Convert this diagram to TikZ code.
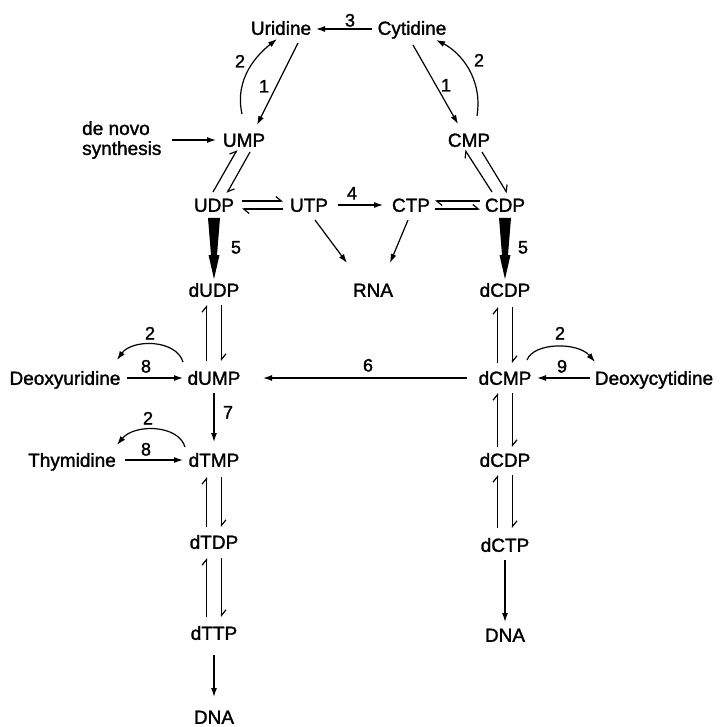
\documentclass[tikz,border=0pt]{standalone}
\usepackage{fontspec}
\setmainfont{Liberation Sans}
\newfontfamily\figfont{Liberation Sans}[FakeBold=1.5]
\usetikzlibrary{arrows.meta,calc}
\tikzset{
  lbl/.style={font=\figfont\fontsize{19}{20}\selectfont, text height=13.6pt, text depth=0pt, inner sep=2pt},
  num/.style={font=\figfont\fontsize{18}{20}\selectfont, text height=13pt, text depth=0pt, inner sep=0pt},
  arr/.style={line width=1.2pt, -{Latex[length=9pt,width=6pt]}},
  harp/.style={line width=1.2pt, -{Straight Barb[left,length=5.5pt,width=9pt]}}
}
\newcommand\mytaper[2]{%
  \fill let \p1=(#1), \p2=(#2) in
    (\x1-6pt,\y1) -- (\x1+6pt,\y1) -- (\x1+3pt,\y2+24pt) -- (\x1+5.5pt,\y2+24pt)
    -- (\x1,\y2) -- (\x1-5.5pt,\y2+24pt) -- (\x1-3pt,\y2+24pt) -- cycle;}
\begin{document}
\begin{tikzpicture}[x=1pt,y=-1pt]
\useasboundingbox (0,0) rectangle (719,727);
% nodes
\node[lbl] (Uri) at (281,28) {Uridine};
\node[lbl] (Cyt) at (412,28) {Cytidine};
\node[lbl] (UMP) at (244,140) {UMP};
\node[lbl] (CMP) at (469,140) {CMP};
\node[font=\figfont\fontsize{19}{20}\selectfont, align=left, anchor=west, inner sep=0pt] (denovo) at (82,140) {de novo\\synthesis};
\node[lbl] (UDP) at (214,205) {UDP};
\node[lbl] (UTP) at (309,205) {UTP};
\node[lbl] (CTP) at (411,205) {CTP};
\node[lbl] (CDP) at (505,205) {CDP};
\node[lbl] (dUDP) at (214,290) {dUDP};
\node[lbl] (RNA) at (373,290) {RNA};
\node[lbl] (dCDP) at (505,290) {dCDP};
\node[lbl] (dUMP) at (214,378) {dUMP};
\node[lbl] (dCMP) at (505,378) {dCMP};
\node[lbl] (dUrd) at (65,378) {Deoxyuridine};
\node[lbl] (dCyd) at (654,378) {Deoxycytidine};
\node[lbl] (Thd) at (72,460) {Thymidine};
\node[lbl] (dTMP) at (214,460) {dTMP};
\node[lbl] (dCDPb) at (505,460) {dCDP};
\node[lbl] (dTDP) at (214,542) {dTDP};
\node[lbl] (dCTP) at (505,545) {dCTP};
\node[lbl] (dTTP) at (214,633) {dTTP};
\node[lbl] (DNAr) at (505,635) {DNA};
\node[lbl] (DNAl) at (214,717) {DNA};
% number labels
\node[num] (n3) at (350,20) {3};
\node[num] (n1a) at (264,86) {1};
\node[num] (n2a) at (240,61) {2};
\node[num] (n1b) at (446,85) {1};
\node[num] (n2b) at (479,60) {2};
\node[num] (n4) at (352,193) {4};
\node[num] (n5a) at (236,247) {5};
\node[num] (n5b) at (523,247) {5};
\node[num] (n2c) at (150,333) {2};
\node[num] (n8a) at (146,366) {8};
\node[num] (n7) at (228,412) {7};
\node[num] (n2d) at (148,418) {2};
\node[num] (n8b) at (146,449) {8};
\node[num] (n6) at (368,365) {6};
\node[num] (n2e) at (560,333) {2};
\node[num] (n9) at (562,366) {9};
% top
\draw[arr] ($(Cyt)+(-40,1)$) -- ($(Uri)+(35,1)$);
\draw[arr] ($(Uri)+(17,15)$) -- ($(UMP)+(13,-15)$);
\draw[arr] ($(UMP)+(-2,-26)$) .. controls ($(UMP)+(-10,-62)$) and ($(Uri)+(-23,26)$) .. ($(Uri)+(-4,11)$);
\draw[arr] ($(Cyt)+(1,17)$) -- ($(CMP)+(-11,-16)$);
\draw[arr] ($(CMP)+(8,-24)$) .. controls ($(CMP)+(14,-62)$) and ($(Cyt)+(48,24)$) .. ($(Cyt)+(24,12)$);
\draw[arr] ($(denovo.east |- UMP)+(10,0)$) -- ($(UMP)+(-28,0)$);
% MP <-> DP
\draw[harp] ($(UDP)+(-1,-13)$) -- ($(UMP)+(-7,10)$);
\draw[harp] ($(UMP)+(6,12)$) -- ($(UDP)+(13,-12)$);
\draw[harp] ($(CDP)+(-13,-13)$) -- ($(CMP)+(-4,10)$);
\draw[harp] ($(CMP)+(13,12)$) -- ($(CDP)+(2,-12)$);
% DP <-> TP
\draw[harp] ($(UDP)+(28,-4)$) -- ($(UTP)+(-26,-4)$);
\draw[harp] ($(UTP)+(-26,4)$) -- ($(UDP)+(28,4)$);
\draw[arr] ($(UTP)+(29,0)$) -- ($(CTP)+(-28,0)$);
\draw[harp] ($(CDP)+(-25,-4)$) -- ($(CTP)+(24,-4)$);
\draw[harp] ($(CTP)+(24,4)$) -- ($(CDP)+(-25,4)$);
\draw[arr] ($(UTP)+(6,15)$) -- ($(RNA)+(-26,-27)$);
\draw[arr] ($(CTP)+(-3,15)$) -- ($(RNA)+(17,-27)$);
% reductase
\mytaper{$(UDP)+(0,13)$}{$(dUDP)+(0,-11)$}
\mytaper{$(CDP)+(0,13)$}{$(dCDP)+(0,-11)$}
% left column
\draw[harp] ($(dUMP)+(-7.5,-17)$) -- ($(dUDP)+(-7.5,15)$);
\draw[harp] ($(dUDP)+(7.5,15)$) -- ($(dUMP)+(7.5,-17)$);
\draw[arr] ($(dUMP)+(0,15)$) -- ($(dTMP)+(0,-18)$);
\draw[harp] ($(dTDP)+(-7.5,-15)$) -- ($(dTMP)+(-7.5,17)$);
\draw[harp] ($(dTMP)+(7.5,17)$) -- ($(dTDP)+(7.5,-15)$);
\draw[harp] ($(dTTP)+(-7.5,-16)$) -- ($(dTDP)+(-7.5,16)$);
\draw[harp] ($(dTDP)+(7.5,16)$) -- ($(dTTP)+(7.5,-16)$);
\draw[arr] ($(dTTP)+(0,22)$) -- ($(DNAl)+(0,-20)$);
% right column
\draw[harp] ($(dCMP)+(-7.5,-15)$) -- ($(dCDP)+(-7.5,17)$);
\draw[harp] ($(dCDP)+(7.5,17)$) -- ($(dCMP)+(7.5,-15)$);
\draw[harp] ($(dCDPb)+(-7.5,-13)$) -- ($(dCMP)+(-7.5,15)$);
\draw[harp] ($(dCMP)+(7.5,15)$) -- ($(dCDPb)+(7.5,-13)$);
\draw[harp] ($(dCTP)+(-7.5,-17)$) -- ($(dCDPb)+(-7.5,15)$);
\draw[harp] ($(dCDPb)+(7.5,15)$) -- ($(dCTP)+(7.5,-17)$);
\draw[arr] ($(dCTP)+(0,15)$) -- ($(DNAr)+(0,-13)$);
% salvage
\draw[arr] ($(dUrd)+(62,0)$) -- ($(dUMP)+(-31,0)$);
\draw[arr] ($(dUMP)+(-31,-16)$) .. controls ($(dUMP)+(-38,-39)$) and ($(dUrd)+(67,-39)$) .. ($(dUrd)+(52,-18)$);
\draw[arr] ($(Thd)+(53,0)$) -- ($(dTMP)+(-31,0)$);
\draw[arr] ($(dTMP)+(-29,-13)$) .. controls ($(dTMP)+(-36,-36)$) and ($(Thd)+(62,-36)$) .. ($(Thd)+(45,-15)$);
\draw[arr] ($(dCMP)+(-38,0)$) -- ($(dUMP)+(49,0)$);
\draw[arr] ($(dCyd)+(-64,0)$) -- ($(dCMP)+(32,0)$);
\draw[arr] ($(dCMP)+(22,-18)$) .. controls ($(dCMP)+(29,-36)$) and ($(dCyd)+(-76,-36)$) .. ($(dCyd)+(-59,-16)$);
\end{tikzpicture}
\end{document}
